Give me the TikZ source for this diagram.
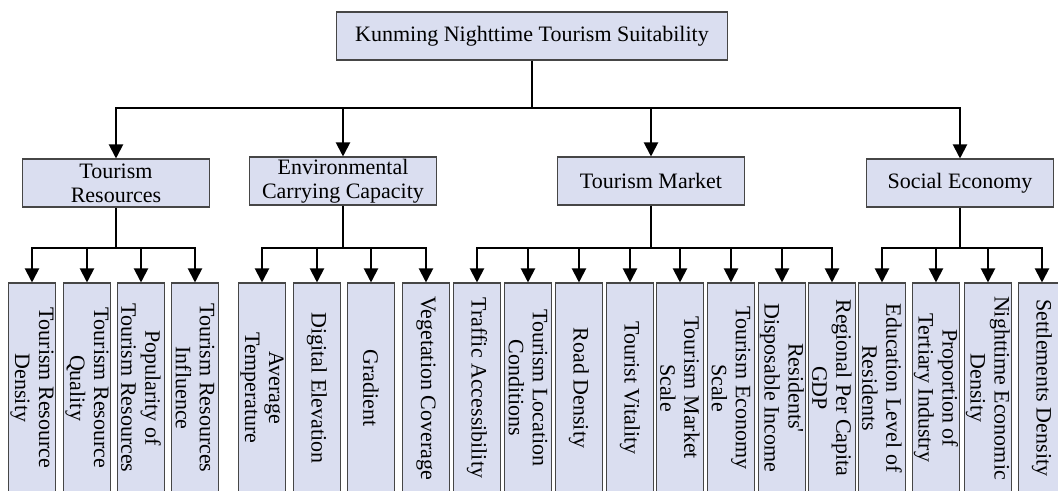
\documentclass[tikz,border=0pt]{standalone}
\usepackage{fontspec}
\setmainfont{Liberation Serif}
\usetikzlibrary{arrows.meta, positioning}
\definecolor{boxfill}{RGB}{218,222,240}
\definecolor{boxline}{RGB}{70,70,70}
\tikzset{
x=0.75pt, y=-0.75pt, % one unit is one pixel of the layout, y grows downwards
>={Triangle[width=10.5pt,length=10.5pt]}, % filled arrow heads
box/.style={draw=boxline, line width=0.8pt, fill=boxfill, align=center, inner sep=1pt, font=\fontsize{16.5}{18}\selectfont}, % every box
goal/.style={box, minimum width=293pt, minimum height=36pt}, % the top box
crit/.style={box, minimum width=140pt, minimum height=36pt}, % the four criteria
leaf/.style={box, rotate=-90, minimum width=157.5pt, minimum height=35.25pt}, % the indicators, read top to bottom
}
\begin{document}
\begin{tikzpicture}[line width=1.5pt]
    \useasboundingbox (0,0) rectangle (1058,490);
    \clip (0,0) rectangle (1058,490);

    % goal and criteria
    \node[goal] (top) at (532,36) {Kunming Nighttime Tourism Suitability};
    \node[crit] (tr) at (116,183) {Tourism\\Resources};
    \node[crit] (ecc) at (343,181) {Environmental\\Carrying Capacity};
    \node[crit] (tm) at (651,181) {Tourism Market};
    \node[crit] (se) at (960,183) {Social Economy};

    % indicators (west anchor is the top edge after rotation)
    \node[leaf] (tr1) at (32,388) {Tourism Resource\\Density};
    \node[leaf] (tr2) at (87,388) {Tourism Resource\\Quality};
    \node[leaf] (tr3) at (141,388) {Popularity of\\Tourism Resources};
    \node[leaf] (tr4) at (195,388) {Tourism Resources\\Influence};

    \node[leaf] (ecc1) at (262,388) {Average\\Temperature};
    \node[leaf] (ecc2) at (317,388) {Digital Elevation};
    \node[leaf] (ecc3) at (371,388) {Gradient};
    \node[leaf] (ecc4) at (426,388) {Vegetation Coverage};

    \node[leaf] (tm1) at (477,388) {Traffic Accessibility};
    \node[leaf] (tm2) at (528,388) {Tourism Location\\Conditions};
    \node[leaf] (tm3) at (579,388) {Road Density};
    \node[leaf] (tm4) at (630,388) {Tourist Vitality};
    \node[leaf] (tm5) at (680,388) {Tourism Market\\Scale};
    \node[leaf] (tm6) at (731,388) {Tourism Economy\\Scale};
    \node[leaf] (tm7) at (782,388) {Residents\textquotesingle\\Disposable Income};
    \node[leaf] (tm8) at (832,388) {Regional Per Capita\\GDP};

    \node[leaf] (se1) at (882,388) {Education Level of\\Residents};
    \node[leaf] (se2) at (936,388) {Proportion of\\Tertiary Industry};
    \node[leaf] (se3) at (988,388) {Nighttime Economic\\Density};
    \node[leaf] (se4) at (1042,388) {Settlements Density};

    % junctions
    \coordinate (bus) at (532,108);
    \coordinate (trbus) at (116,248);
    \coordinate (eccbus) at (343,248);
    \coordinate (tmbus) at (651,248);
    \coordinate (sebus) at (960,248);

    % goal to criteria
    \draw (top) -- (bus);
    \draw[->] (bus) -| (tr.north);
    \draw[->] (bus) -| (ecc.north);
    \draw[->] (bus) -| (tm.north);
    \draw[->] (bus) -| (se.north);

    % criteria to indicators
    \draw (tr) -- (trbus);
    \draw[->] (trbus) -| (tr1.west);
    \draw[->] (trbus) -| (tr2.west);
    \draw[->] (trbus) -| (tr3.west);
    \draw[->] (trbus) -| (tr4.west);

    \draw (ecc) -- (eccbus);
    \draw[->] (eccbus) -| (ecc1.west);
    \draw[->] (eccbus) -| (ecc2.west);
    \draw[->] (eccbus) -| (ecc3.west);
    \draw[->] (eccbus) -| (ecc4.west);

    \draw (tm) -- (tmbus);
    \draw[->] (tmbus) -| (tm1.west);
    \draw[->] (tmbus) -| (tm2.west);
    \draw[->] (tmbus) -| (tm3.west);
    \draw[->] (tmbus) -| (tm4.west);
    \draw[->] (tmbus) -| (tm5.west);
    \draw[->] (tmbus) -| (tm6.west);
    \draw[->] (tmbus) -| (tm7.west);
    \draw[->] (tmbus) -| (tm8.west);

    \draw (se) -- (sebus);
    \draw[->] (sebus) -| (se1.west);
    \draw[->] (sebus) -| (se2.west);
    \draw[->] (sebus) -| (se3.west);
    \draw[->] (sebus) -| (se4.west);
\end{tikzpicture}
\end{document}
